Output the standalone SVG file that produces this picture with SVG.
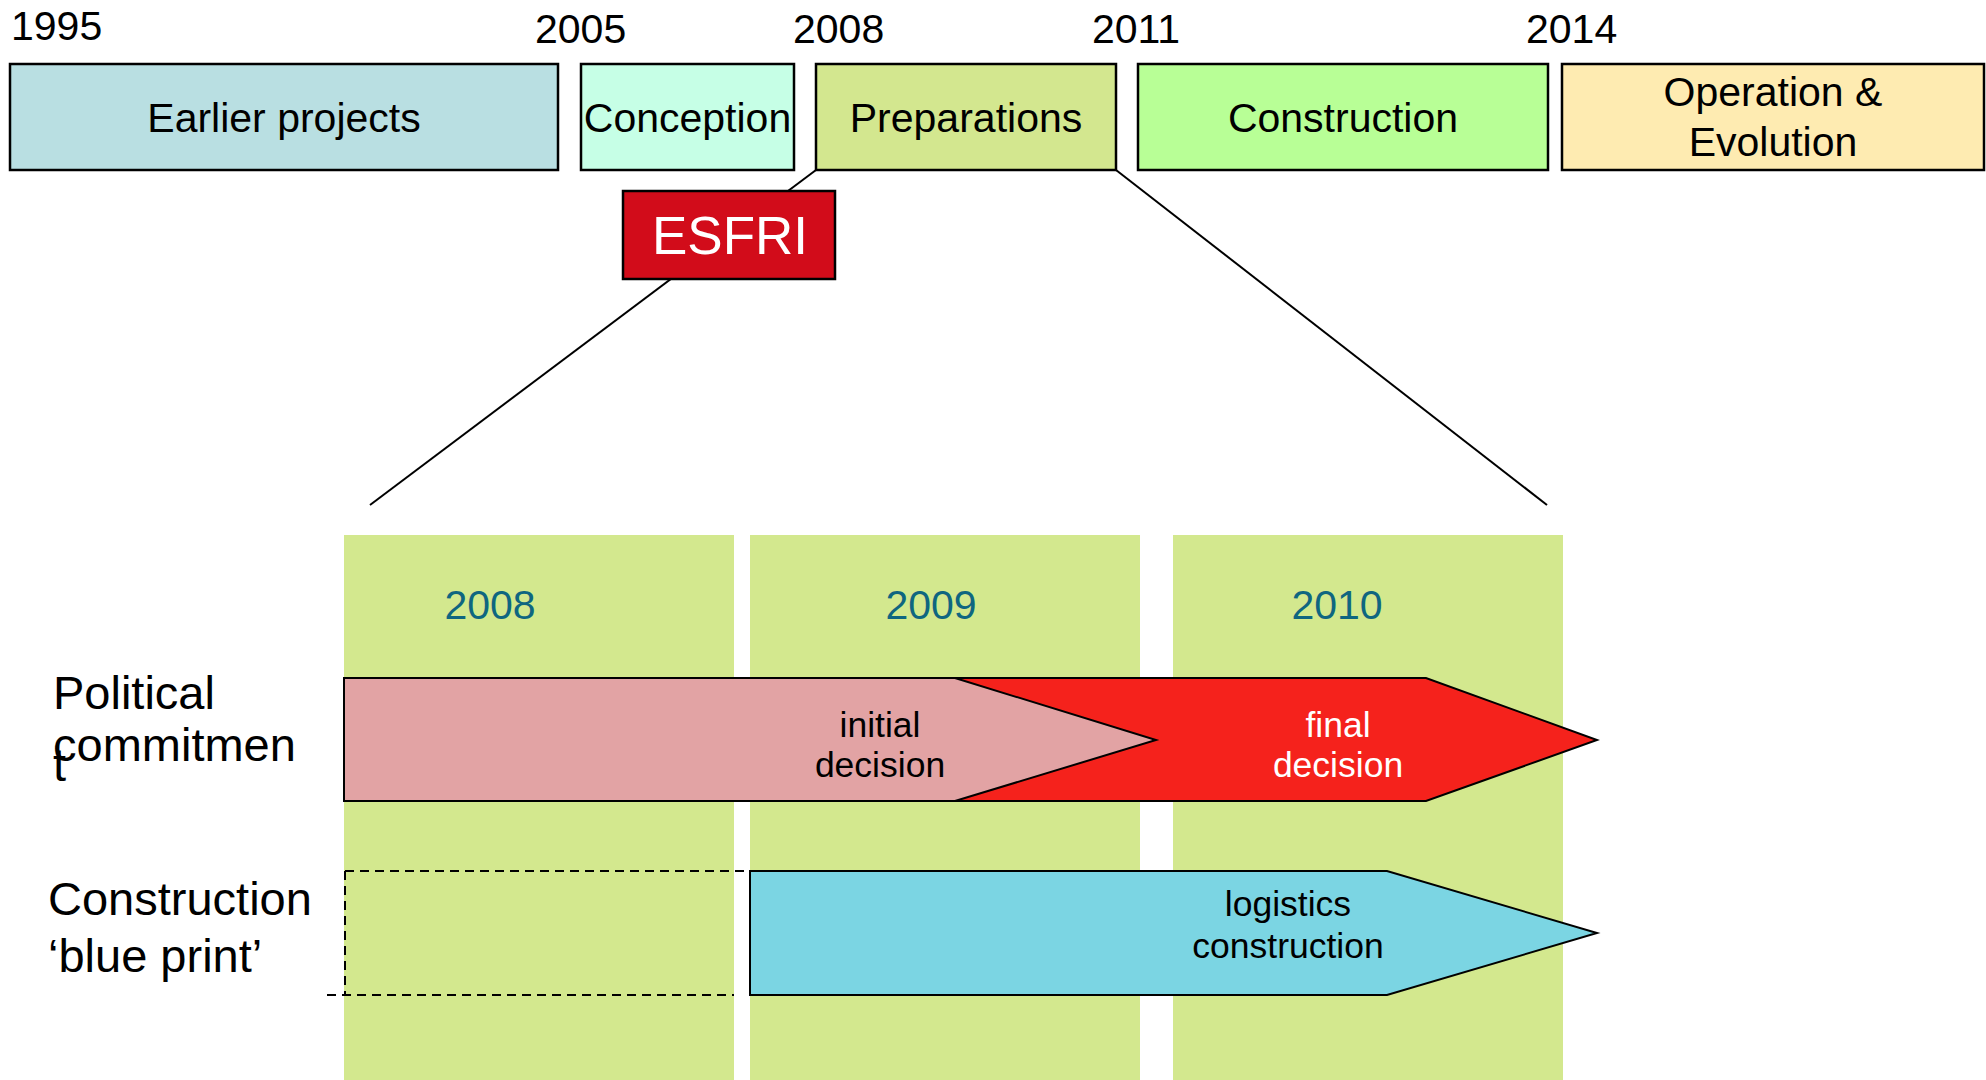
<svg xmlns="http://www.w3.org/2000/svg" width="1986" height="1080" viewBox="0 0 1986 1080">
  <style>
    text { font-family: "Liberation Sans", Arial, sans-serif; fill: #000; }
    .year { font-size: 41px; }
    .phase { stroke: #000; stroke-width: 2.5; }
    .phase-label { font-size: 41px; text-anchor: middle; }
    .col { fill: #D3E88E; }
    .col-year { font-size: 41px; fill: #0F6680; text-anchor: middle; }
    .row-label { font-size: 47px; }
    .bar { stroke: #000; stroke-width: 2; stroke-linejoin: miter; }
    .bar-label { font-size: 35.5px; text-anchor: middle; }
    .zoom { stroke: #000; stroke-width: 2; fill: none; }
    .dash { stroke: #000; stroke-width: 2; stroke-dasharray: 9 6; fill: none; }
  </style>

  <rect width="1986" height="1080" fill="#fff"/>

  <!-- Timeline years -->
  <g id="timeline-years">
    <text class="year" x="11" y="40">1995</text>
    <text class="year" x="535" y="43">2005</text>
    <text class="year" x="793" y="43">2008</text>
    <text class="year" x="1092" y="43">2011</text>
    <text class="year" x="1526" y="43">2014</text>
  </g>

  <!-- Zoom lines from the preparations phase to the detailed view -->
  <g id="connectors">
    <line class="zoom" x1="816" y1="170" x2="370" y2="505"/>
    <line class="zoom" x1="1116" y1="170" x2="1547" y2="505"/>
  </g>

  <!-- Phase boxes -->
  <g id="phase-earlier">
    <rect class="phase" x="10" y="64" width="548" height="106" fill="#B9DFE2"/>
    <text class="phase-label" x="284" y="132">Earlier projects</text>
  </g>
  <g id="phase-conception">
    <rect class="phase" x="581" y="64" width="213" height="106" fill="#C6FFE6"/>
    <text class="phase-label" x="687.5" y="132">Conception</text>
  </g>
  <g id="phase-preparations">
    <rect class="phase" x="816" y="64" width="300" height="106" fill="#D3E78F"/>
    <text class="phase-label" x="966" y="132">Preparations</text>
  </g>
  <g id="phase-construction">
    <rect class="phase" x="1138" y="64" width="410" height="106" fill="#B8FF96"/>
    <text class="phase-label" x="1343" y="132">Construction</text>
  </g>
  <g id="phase-operation">
    <rect class="phase" x="1562" y="64" width="422" height="106" fill="#FEEBB1"/>
    <text class="phase-label" x="1773" y="106">Operation &amp;</text>
    <text class="phase-label" x="1773" y="156">Evolution</text>
  </g>

  <!-- ESFRI marker -->
  <g id="esfri">
    <rect x="623" y="191" width="212" height="88" fill="#D20C1A" stroke="#000" stroke-width="2.5"/>
    <text x="730" y="254" font-size="53" text-anchor="middle" style="fill:#fff">ESFRI</text>
  </g>

  <!-- Year columns -->
  <g id="col-2008">
    <rect class="col" x="344" y="535" width="390" height="545"/>
    <text class="col-year" x="490" y="619">2008</text>
  </g>
  <g id="col-2009">
    <rect class="col" x="750" y="535" width="390" height="545"/>
    <text class="col-year" x="931" y="619">2009</text>
  </g>
  <g id="col-2010">
    <rect class="col" x="1173" y="535" width="390" height="545"/>
    <text class="col-year" x="1337" y="619">2010</text>
  </g>

  <!-- Row labels -->
  <g id="label-political">
    <text class="row-label" x="53" y="709">Political</text>
    <text class="row-label" x="53" y="761">commitmen</text>
    <text class="row-label" x="53" y="781">t</text>
  </g>
  <g id="label-blueprint">
    <text class="row-label" x="48" y="915">Construction</text>
    <text class="row-label" x="48" y="972">‘blue print’</text>
  </g>

  <!-- Political commitment arrows -->
  <g id="bar-final">
    <polygon class="bar" points="908,678 1426,678 1597,740 1426,801 908,801" fill="#F5221C"/>
    <text class="bar-label" x="1338" y="737" style="fill:#fff">final</text>
    <text class="bar-label" x="1338" y="777" style="fill:#fff">decision</text>
  </g>
  <g id="bar-initial">
    <polygon class="bar" points="344,678 955,678 1156,740 955,801 344,801" fill="#E2A3A4"/>
    <text class="bar-label" x="880" y="737">initial</text>
    <text class="bar-label" x="880" y="777">decision</text>
  </g>

  <!-- Construction blueprint -->
  <g id="blueprint-placeholder">
    <path class="dash" d="M345,871 H749 M345,871 V995 M327,995 H734"/>
  </g>
  <g id="bar-logistics">
    <polygon class="bar" points="750,871 1387,871 1597,933 1387,995 750,995" fill="#7BD5E3"/>
    <text class="bar-label" x="1288" y="916">logistics</text>
    <text class="bar-label" x="1288" y="958">construction</text>
  </g>
</svg>
